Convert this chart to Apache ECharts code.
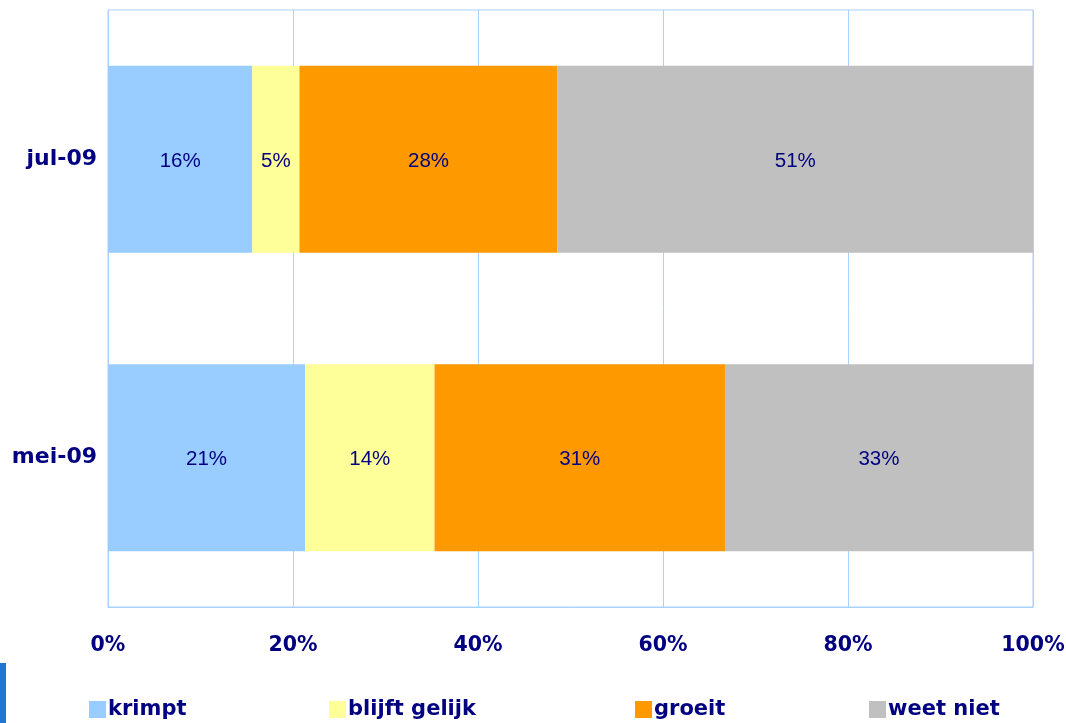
<!DOCTYPE html>
<html>
<head>
<meta charset="utf-8">
<script src="https://cdn.jsdelivr.net/npm/echarts@6/dist/echarts.min.js"></script>
<style>html,body{margin:0;padding:0;background:#fff}#c{width:1066px;height:723px}</style>
</head>
<body>
<div id="c"></div>
<script>
const categories = ['mei-09', 'jul-09'];
const seriesNames = ['krimpt', 'blijft gelijk', 'groeit', 'weet niet'];
const krimpt = [21.3, 15.6];
const blijftGelijk = [14.0, 5.1];
const groeit = [31.4, 27.9];
const weetNiet = [33.3, 51.4];
const xTicks = [0, 20, 40, 60, 80, 100];
const colors = ['#99CCFF', '#FFFF99', '#FF9900', '#C0C0C0'];
const seriesData = [krimpt, blijftGelijk, groeit, weetNiet];
const legendLeft = [89, 329, 635, 869];

const navy = '#000080';
const chart = echarts.init(document.getElementById('c'));
chart.setOption({
  animation: false,
  grid: { left: 108, right: 33, top: 10, bottom: 116, containLabel: false, outerBoundsMode: 'none',
    show: true, borderColor: '#a8d2ff', borderWidth: 1 },
  xAxis: {
    type: 'value', min: 0, max: 100, interval: 20,
    axisLine: { show: true, lineStyle: { color: '#a8d2ff' } },
    axisTick: { show: false },
    splitLine: { show: true, lineStyle: { color: '#a8d2ff', width: 1 } },
    axisLabel: { margin: 28, color: navy, fontFamily: 'DejaVu Sans', fontWeight: 'bold', fontSize: 20.5,
      formatter: v => xTicks.includes(v) ? v + '%' : '' }
  },
  yAxis: {
    type: 'category', data: categories,
    axisLine: { show: true, lineStyle: { color: '#a8d2ff' } },
    axisTick: { show: false },
    axisLabel: { margin: 11, color: navy, fontFamily: 'DejaVu Sans', fontWeight: 'bold', fontSize: 22 }
  },
  legend: seriesNames.map((n, i) => ({
    data: [n], left: legendLeft[i], bottom: 3, padding: 0, itemWidth: 17, itemHeight: 17, icon: 'rect',
    selectedMode: false,
    textStyle: { color: navy, fontFamily: 'DejaVu Sans', fontWeight: 'bold', fontSize: 21, padding: [0, 0, 0, -3] }
  })),
  series: seriesNames.map((n, i) => ({
    name: n, type: 'bar', stack: 'total', barWidth: '62.6%',
    data: seriesData[i],
    itemStyle: { color: colors[i] },
    label: { show: true, position: 'inside', offset: [0, 2], color: navy, fontFamily: 'Liberation Sans', fontSize: 20.5,
      formatter: p => Math.round(p.value) + '%' }
  })),
  graphic: [{ type: 'rect', shape: { x: 0, y: 663, width: 6, height: 60 }, style: { fill: '#1f77d4' } }]
});
</script>
</body>
</html>
